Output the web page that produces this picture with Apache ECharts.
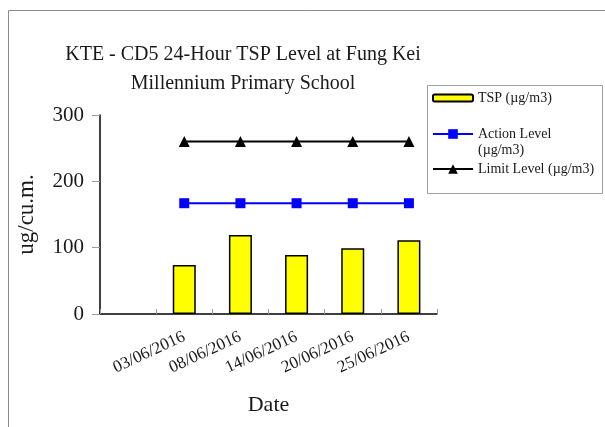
<!DOCTYPE html>
<html>
<head>
<meta charset="utf-8">
<script src="https://cdn.jsdelivr.net/npm/echarts@6/dist/echarts.min.js"></script>
<style>
  html, body { margin: 0; padding: 0; background: #fff; }
  #chart { width: 605px; height: 427px; }
</style>
</head>
<body>
<div id="chart"></div>
<script>
// data; the first category slot is empty
const categories = ['', '03/06/2016', '08/06/2016', '14/06/2016', '20/06/2016', '25/06/2016'];
const tspValues = [null, 74, 119, 89, 99, 111];
const actionLevel = [null, 167, 167, 167, 167, 167];
const limitLevel = [null, 260, 260, 260, 260, 260];
const yTicks = [0, 100, 200, 300];

const FONT = 'Liberation Serif';
const TEXT = '#1a1a1a';

const chart = echarts.init(document.getElementById('chart'));

const option = {
    animation: false,
    title: {
        text: 'KTE - CD5 24-Hour TSP Level at Fung Kei\nMillennium Primary School',
        left: 238,
        top: 35,
        textAlign: 'center',
        textStyle: {
            fontFamily: FONT,
            fontSize: 20,
            fontWeight: 'normal',
            lineHeight: 29,
            color: TEXT
        }
    },
    legend: [
        {
            left: 427, top: 86,
            itemWidth: 40, itemHeight: 7,
            data: ['TSP (µg/m3)'],
            textStyle: { fontFamily: FONT, fontSize: 14, color: TEXT }
        },
        {
            left: 427, top: 122,
            itemWidth: 40, itemHeight: 12,
            data: ['Action Level'],
            textStyle: { fontFamily: FONT, fontSize: 14, color: TEXT }
        },
        {
            left: 427, top: 157,
            itemWidth: 40, itemHeight: 12,
            data: ['Limit Level (µg/m3)'],
            textStyle: { fontFamily: FONT, fontSize: 14, color: TEXT }
        }
    ],
    graphic: [
        {
            type: 'polyline',
            shape: { points: [[8.5, 427], [8.5, 10.5], [605, 10.5]] },
            style: { fill: 'none', stroke: '#8c8c8c', lineWidth: 1 },
            silent: true
        },
        {
            type: 'rect',
            shape: { x: 427.5, y: 85.5, width: 175, height: 108 },
            style: { fill: 'none', stroke: '#a0a0a0', lineWidth: 1 },
            silent: true
        },
        {
            type: 'text',
            left: 478, top: 143,
            style: { text: '(µg/m3)', fontFamily: FONT, fontSize: 14, fill: TEXT }
        }
    ],
    grid: {
        left: 100,
        right: 168,
        top: 115,
        bottom: 113
    },
    xAxis: {
        type: 'category',
        data: categories,
        name: 'Date',
        nameLocation: 'middle',
        nameGap: 80,
        nameTextStyle: { fontFamily: FONT, fontSize: 22, color: TEXT },
        axisLine: { lineStyle: { color: '#000', width: 1.5 } },
        axisTick: {
            show: true,
            inside: true,
            length: 5,
            interval: 0,
            lineStyle: { color: '#999' }
        },
        axisLabel: {
            interval: 0,
            rotate: 25,
            margin: 22,
            fontFamily: FONT,
            fontSize: 17,
            color: TEXT
        },
        splitLine: { show: false }
    },
    yAxis: {
        type: 'value',
        min: yTicks[0],
        max: yTicks[yTicks.length - 1],
        interval: 100,
        name: 'ug/cu.m.',
        nameLocation: 'middle',
        nameRotate: 90,
        nameGap: 62,
        nameTextStyle: { fontFamily: FONT, fontSize: 23, color: TEXT },
        axisLine: { show: true, lineStyle: { color: '#000', width: 1.5 } },
        axisTick: { show: true, length: 8, lineStyle: { color: '#999' } },
        axisLabel: {
            margin: 16,
            fontFamily: FONT,
            fontSize: 21,
            color: TEXT
        },
        splitLine: { show: false }
    },
    series: [
        {
            name: 'TSP (µg/m3)',
            type: 'bar',
            data: tspValues,
            barWidth: 23,
            itemStyle: { color: '#ffff00', borderColor: '#000', borderWidth: 1.5 }
        },
        {
            name: 'Action Level',
            type: 'line',
            data: actionLevel,
            symbol: 'rect',
            symbolSize: 10,
            itemStyle: { color: '#0000ff' },
            lineStyle: { color: '#0000ff', width: 2 }
        },
        {
            name: 'Limit Level (µg/m3)',
            type: 'line',
            data: limitLevel,
            symbol: 'triangle',
            symbolSize: 11,
            itemStyle: { color: '#000' },
            lineStyle: { color: '#000', width: 2 }
        }
    ]
};

chart.setOption(option);
</script>
</body>
</html>
